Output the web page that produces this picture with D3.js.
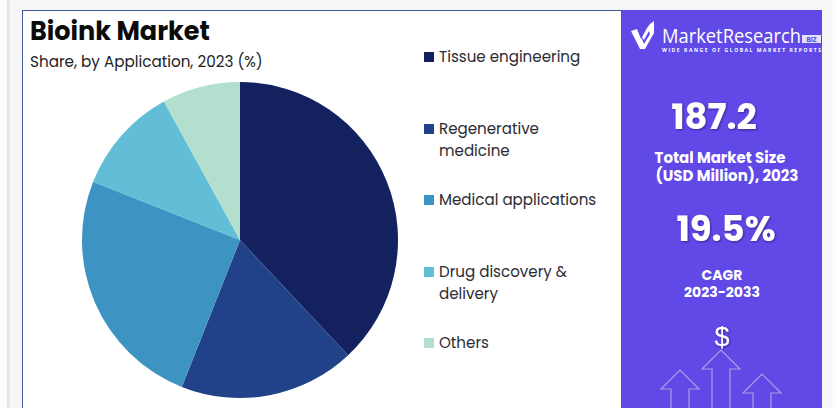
<!DOCTYPE html>
<html>
<head>
<meta charset="utf-8">
<script src="https://cdn.jsdelivr.net/npm/d3@7"></script>
<style>
  html, body { margin: 0; padding: 0; background: #f5f5f5; overflow: hidden; }
  text { font-family: Poppins, "Noto Sans", "Open Sans", sans-serif; }
</style>
</head>
<body>
<div id="chart"></div>
<script>
const categories = ["Tissue engineering", "Regenerative medicine", "Medical applications", "Drug discovery & delivery", "Others"];
const shares = [38, 18, 25, 11, 8];
const colors = ["#14215f", "#214288", "#3d93c1", "#62bdd6", "#b2dfce"];
// legend text, wrapped the way the picture wraps it
const legendLines = [["Tissue engineering"], ["Regenerative", "medicine"], ["Medical applications"], ["Drug discovery &", "delivery"], ["Others"]];
const legendY = [57, 129, 200, 272, 343];

const width = 836;
const height = 408;
const radius = 158;

const svg = d3.select("#chart").append("svg")
  .attr("width", width)
  .attr("height", height)
  .style("display", "block");

const defs = svg.append("defs");
const glow = defs.append("filter").attr("id", "shadow").attr("x", "-20%").attr("y", "-20%").attr("width", "140%").attr("height", "140%");
glow.append("feDropShadow").attr("dx", 1).attr("dy", 1).attr("stdDeviation", 1.2).attr("flood-color", "#1c1560").attr("flood-opacity", 0.6);

//page background and panels
svg.append("rect").attr("x", 0).attr("y", 0).attr("width", width).attr("height", height).attr("fill", "#f6f6f6");
svg.append("rect").attr("x", 0).attr("y", 0).attr("width", 7).attr("height", height).attr("fill", "#fdfdfd");
svg.append("rect").attr("x", 7).attr("y", 0).attr("width", 3).attr("height", height).attr("fill", "#e6e6e6");
svg.append("rect").attr("x", 22.5).attr("y", 10.5).attr("width", 599).attr("height", 410).attr("fill", "#fff").attr("stroke", "#3c5a9c");
svg.append("rect").attr("x", 622).attr("y", 10).attr("width", 200).attr("height", height).attr("fill", "#6049e7");
svg.append("rect").attr("x", 832).attr("y", 0).attr("width", 4).attr("height", height).attr("fill", "#fdfdfd");

//title
svg.append("text").attr("x", 30).attr("y", 40)
  .attr("font-size", 25.5).attr("font-weight", 700).attr("fill", "#0b0b0b")
  .text("Bioink Market");
svg.append("text").attr("x", 30).attr("y", 67)
  .attr("font-size", 15.2).attr("fill", "#222")
  .text("Share, by Application, 2023 (%)");

//pie
const pie = d3.pie().sort(null).value(d => d);
const arc = d3.arc().innerRadius(0).outerRadius(radius);

svg.append("g")
  .attr("transform", "translate(240,240)")
  .selectAll("path")
  .data(pie(shares))
  .join("path")
  .attr("d", arc)
  .attr("fill", (d, i) => colors[i]);

//legend
const legend = svg.append("g").selectAll("g")
  .data(categories)
  .join("g")
  .attr("transform", (d, i) => `translate(424,${legendY[i]})`);

legend.append("rect")
  .attr("x", 0).attr("y", -5)
  .attr("width", 10).attr("height", 10)
  .attr("fill", (d, i) => colors[i]);

legend.append("text")
  .attr("x", 15)
  .attr("font-size", 15.1)
  .attr("fill", "#2b2b33")
  .selectAll("tspan")
  .data((d, i) => legendLines[i])
  .join("tspan")
  .attr("x", 15)
  .attr("y", (d, i) => 5 + i * 22)
  .text(d => d);

//logo
const logo = svg.append("g");
logo.append("path")
  .attr("d", "M631 31 L637 29 L641 39 L647 28 L650 24 L654 21 L654 33 L645 49 L640 49 Z")
  .attr("fill", "#fff");
logo.append("path")
  .attr("d", "M640 34 L644 40 L649 31 L650 34 L644 44 Z")
  .attr("fill", "#6049e7");
const logoText = logo.append("text").attr("fill", "#fff").style("font-family", "'Open Sans', sans-serif");
logoText.append("tspan").attr("x", 662).attr("y", 43)
  .attr("font-size", 19.5)
  .attr("textLength", 139).attr("lengthAdjust", "spacingAndGlyphs")
  .text("MarketResearch");
logoText.append("tspan").attr("x", 662).attr("y", 52)
  .attr("font-size", 5).attr("font-weight", 700)
  .attr("textLength", 159).attr("lengthAdjust", "spacing")
  .text("WIDE RANGE OF GLOBAL MARKET REPORTS");
logo.append("rect").attr("x", 802).attr("y", 35).attr("width", 19).attr("height", 8).attr("fill", "#e4e0fb");
logo.append("text").attr("x", 811.5).attr("y", 42)
  .attr("font-size", 6.5).attr("font-weight", 700).attr("fill", "#6049e7").attr("text-anchor", "middle")
  .text("BIZ");

//side panel numbers
const side = svg.append("g").attr("fill", "#fff").attr("text-anchor", "middle");
side.append("text").attr("x", 714).attr("y", 129)
  .attr("font-size", 35.5).attr("font-weight", 700).attr("filter", "url(#shadow)").text("187.2");

const sizeLabel = side.append("text").attr("font-size", 15).attr("font-weight", 700);
sizeLabel.append("tspan").attr("x", 720).attr("y", 163).text("Total Market Size");
sizeLabel.append("tspan").attr("x", 727).attr("y", 181).text("(USD Million), 2023");

side.append("text").attr("x", 726).attr("y", 241)
  .attr("font-size", 35.5).attr("font-weight", 700).attr("filter", "url(#shadow)").text("19.5%");

const cagrLabel = side.append("text").attr("font-size", 14).attr("font-weight", 700);
cagrLabel.append("tspan").attr("x", 722).attr("y", 280).text("CAGR");
cagrLabel.append("tspan").attr("x", 722).attr("y", 297).text("2023-2033");

side.append("text").attr("x", 722).attr("y", 346)
  .attr("font-size", 27).attr("filter", "url(#shadow)")
  .style("font-family", "'Liberation Sans', sans-serif").text("$");

//growth arrows
svg.append("g").selectAll("path")
  .data([[680, 370], [721, 350], [762, 374]])
  .join("path")
  .attr("transform", d => `translate(${d[0]},${d[1]})`)
  .attr("d", "M-9 60 V19 H-19 L0 0 L19 19 H9 V60")
  .attr("fill", "none")
  .attr("stroke", "#a99fe6")
  .attr("stroke-width", 1.2);
</script>
</body>
</html>
